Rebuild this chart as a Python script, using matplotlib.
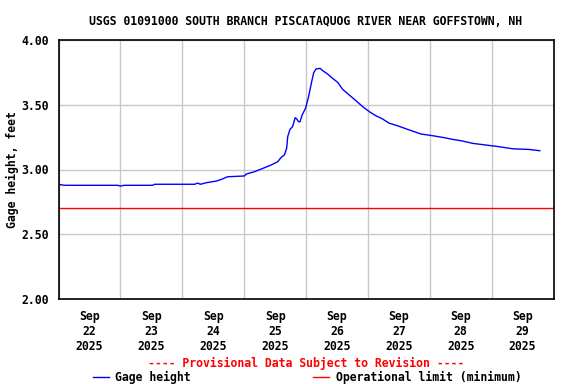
import numpy as np
import pandas as pd
import matplotlib
matplotlib.use('Agg')
import matplotlib.pyplot as plt
import matplotlib.dates as mdates
from matplotlib.lines import Line2D

plt.rcParams['font.family'] = 'DejaVu Sans Mono'
plt.rcParams['font.weight'] = 'bold'
plt.rcParams['axes.titleweight'] = 'bold'
plt.rcParams['axes.labelweight'] = 'bold'

# hours after 2025-09-22 00:00, gage height in feet
hours = [0, 2.4, 23, 24, 25.5, 36.5, 37.3, 52.8, 54, 55, 57.4, 61.3, 63.2,
         65.6, 72.1, 72.9, 76, 78.7, 82.5, 85, 86.4, 87.6, 88.5, 88.9, 89.8,
         90.8, 91.8, 92.5, 93.1, 93.7, 94.5, 95.8, 97, 98.2, 99, 99.9, 101.5,
         102.5, 104.4, 106.3, 108.3, 110.2, 112.8, 115.4, 118, 120.6, 123.1,
         125.7, 128.3, 131.5, 135.4, 138, 140.6, 145.1, 149, 152.8, 156.7,
         160.6, 165.8, 170.9, 176.1, 182.5, 186.7]
gage = [2.885, 2.878, 2.878, 2.872, 2.878, 2.878, 2.886, 2.886, 2.895, 2.886,
        2.898, 2.911, 2.924, 2.944, 2.950, 2.965, 2.983, 3.004, 3.035, 3.060,
        3.094, 3.112, 3.164, 3.253, 3.310, 3.331, 3.400, 3.388, 3.369, 3.369,
        3.421, 3.472, 3.562, 3.678, 3.748, 3.776, 3.781, 3.763, 3.737, 3.704,
        3.673, 3.619, 3.575, 3.531, 3.485, 3.446, 3.415, 3.390, 3.357, 3.338,
        3.310, 3.292, 3.274, 3.261, 3.248, 3.233, 3.220, 3.202, 3.189, 3.176,
        3.160, 3.155, 3.145]
op_limit = 2.70

start = pd.Timestamp('2025-09-22')
end = pd.Timestamp('2025-09-30')
times = start + pd.to_timedelta(hours, unit='h')
yticks = [2.0, 2.5, 3.0, 3.5, 4.0]

fs = 8.3
fig = plt.figure(figsize=(5.76, 3.84), dpi=100)
ax = fig.add_axes([58.5/576, 85/384, 495/576, 259/384])

ax.plot(times, gage, color='blue', lw=1)
ax.axhline(op_limit, color='red', lw=1)

ax.set_xlim(start, end)
ax.set_ylim(2.0, 4.0)
ax.set_yticks(yticks)
ax.set_yticklabels(['%.2f' % v for v in yticks])

ax.xaxis.set_minor_locator(mdates.HourLocator(byhour=[0]))
ax.xaxis.set_major_locator(mdates.HourLocator(byhour=[12]))
ax.xaxis.set_major_formatter(mdates.DateFormatter('%b\n%d\n%Y'))
ax.grid(False, which='major', axis='x')
ax.grid(True, which='minor', axis='x', color='#c8c8c8', lw=1)
ax.grid(True, which='major', axis='y', color='#c8c8c8', lw=1)
ax.set_axisbelow(True)
ax.tick_params(which='both', length=0)
ax.tick_params(axis='x', labelsize=fs, pad=8)
ax.tick_params(axis='y', labelsize=fs, pad=7)
for lab in ax.get_xticklabels() + ax.get_yticklabels():
    lab.set_fontweight('bold')
for lab in ax.get_xticklabels():
    lab.set_linespacing(1.2)
for s in ax.spines.values():
    s.set_linewidth(1.2)

ax.set_ylabel('Gage height, feet', fontsize=fs)
ax.yaxis.set_label_coords(-0.08, 0.5)
ax.set_title('USGS 01091000 SOUTH BRANCH PISCATAQUOG RIVER NEAR GOFFSTOWN, NH',
             fontsize=fs, pad=11, fontweight='bold')

fig.text(306/576, 1 - 363/384, '---- Provisional Data Subject to Revision ----',
         color='red', fontsize=fs, ha='center', va='center', fontweight='bold')

handles = [Line2D([], [], color='blue', lw=1), Line2D([], [], color='red', lw=1)]
fig.legend(handles, ['Gage height', 'Operational limit (minimum)'],
           loc='center left', bbox_to_anchor=(93/576, 1 - 377/384), ncol=2,
           frameon=False, fontsize=fs, handlelength=1.4, handletextpad=0.55,
           columnspacing=10.6, borderpad=0, borderaxespad=0)

fig.savefig('out.png', dpi=100)
